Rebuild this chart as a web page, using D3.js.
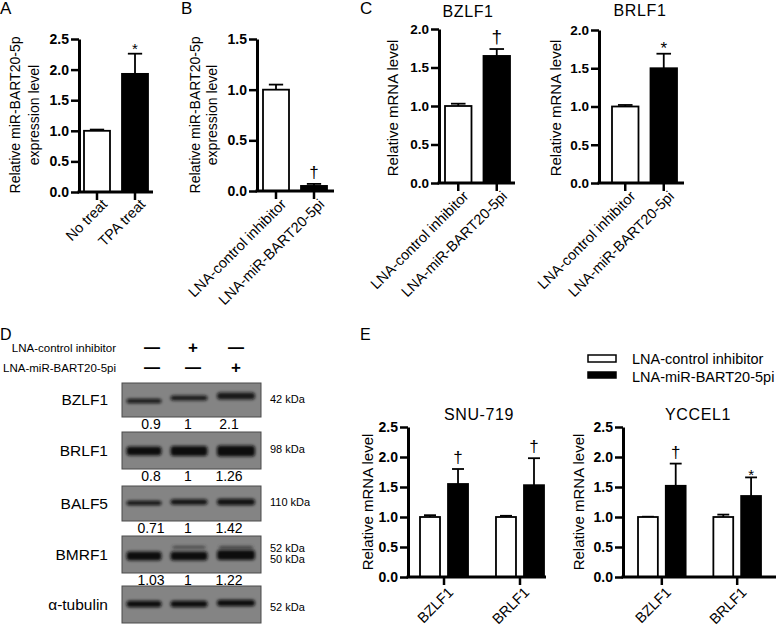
<!DOCTYPE html>
<html><head><meta charset="utf-8">
<script src="https://cdn.jsdelivr.net/npm/d3@7/dist/d3.min.js"></script>
<style>
html,body{margin:0;padding:0;background:#fff;}
svg text{font-family:'Liberation Sans',Arial,Helvetica,sans-serif;}
</style></head>
<body>
<svg id="fig" width="777" height="626"></svg>
<script>
// ---------------- DATA ----------------
const aCategories = ["No treat", "TPA treat"];
const aValues = [1.0, 1.93];
const aErrors = [0.02, 0.33];
const aMarks = ["", "*"];
const aTicks = [0, 0.5, 1.0, 1.5, 2.0, 2.5];

const bCategories = ["LNA-control inhibitor", "LNA-miR-BART20-5pi"];
const bValues = [1.0, 0.05];
const bErrors = [0.05, 0.02];
const bMarks = ["", "†"];
const bTicks = [0, 0.5, 1.0, 1.5];

const cCategories = ["LNA-control inhibitor", "LNA-miR-BART20-5pi"];
const cBZLF1Values = [1.0, 1.65];
const cBZLF1Errors = [0.03, 0.09];
const cBZLF1Marks = ["", "†"];
const cBRLF1Values = [1.0, 1.50];
const cBRLF1Errors = [0.02, 0.19];
const cBRLF1Marks = ["", "*"];
const cTicks = [0, 0.5, 1.0, 1.5, 2.0];

const dProteins = ["BZLF1", "BRLF1", "BALF5", "BMRF1", "α-tubulin"];
const dSizes = [["42 kDa"], ["98 kDa"], ["110 kDa"], ["52 kDa", "50 kDa"], ["52 kDa"]];
const dQuant = [["0.9", "1", "2.1"], ["0.8", "1", "1.26"], ["0.71", "1", "1.42"], ["1.03", "1", "1.22"]];
const dControlRow = ["—", "+", "—"];
const dMirRow = ["—", "—", "+"];
const dRowLabels = ["LNA-control inhibitor", "LNA-miR-BART20-5pi"];

const eGenes = ["BZLF1", "BRLF1"];
const eSeries = ["LNA-control inhibitor", "LNA-miR-BART20-5pi"];
const eSNUControl = [1.0, 1.0];
const eSNUControlErr = [0.03, 0.02];
const eSNUMir = [1.55, 1.53];
const eSNUMirErr = [0.25, 0.45];
const eSNUMarks = ["†", "†"];
const eYCCControl = [1.0, 1.0];
const eYCCControlErr = [0.005, 0.04];
const eYCCMir = [1.52, 1.35];
const eYCCMirErr = [0.37, 0.31];
const eYCCMarks = ["†", "*"];
const eTicks = [0, 0.5, 1.0, 1.5, 2.0, 2.5];

// ---------------- DRAWING ----------------
const svg = d3.select("#fig");
const fmt = d3.format(".1f");

function yAxis(g, y, x, ticks, fs) {
  const a = g.append("g").attr("transform", `translate(${x},0)`)
    .call(d3.axisLeft(y).tickValues(ticks).tickFormat(fmt).tickSize(8).tickSizeOuter(0).tickPadding(2));
  a.select(".domain").attr("stroke", "#000").attr("stroke-width", 3);
  a.selectAll(".tick line").attr("stroke", "#000").attr("stroke-width", 2.5);
  a.selectAll(".tick text").attr("fill", "#000").attr("font-size", fs).attr("font-weight", "bold")
    .attr("font-family", "'Liberation Sans',Arial,sans-serif");
  return a;
}

function xAxis(g, x, y0, axisX, xEnd, tickVals, labelOff, fs) {
  g.append("line").attr("x1", axisX - 1.5).attr("x2", xEnd).attr("y1", y0).attr("y2", y0)
    .attr("stroke", "#000").attr("stroke-width", 3);
  const a = g.append("g").attr("transform", `translate(0,${y0})`)
    .call(d3.axisBottom(x).tickSize(8).tickSizeOuter(0));
  a.select(".domain").remove();
  a.selectAll(".tick line").attr("stroke", "#000").attr("stroke-width", 2.5);
  a.selectAll(".tick text").attr("fill", "#000").attr("font-size", fs)
    .attr("font-family", "'Liberation Sans',Arial,sans-serif")
    .attr("text-anchor", "end").attr("y", 0).attr("x", 0).attr("dy", "0.7em")
    .attr("transform", `translate(${labelOff[0]},${labelOff[1]}) rotate(-45)`);
}

function yTitle(g, lines, xs, cy, fs) {
  lines.forEach((t, i) => {
    g.append("text").attr("transform", `translate(${xs[i]},${cy}) rotate(-90)`)
      .attr("text-anchor", "middle").attr("dy", "0.35em").attr("font-size", fs).text(t);
  });
}

function bar(g, x0, w, y, v, e, fill, mark, capFrac, markFs, starGap) {
  const cx = x0 + w / 2;
  const topE = y(v + e);
  g.append("line").attr("x1", cx).attr("x2", cx).attr("y1", y(v)).attr("y2", topE)
    .attr("stroke", "#000").attr("stroke-width", 1.8);
  g.append("line").attr("x1", cx - w * capFrac / 2).attr("x2", cx + w * capFrac / 2)
    .attr("y1", topE).attr("y2", topE).attr("stroke", "#000").attr("stroke-width", 1.8);
  g.append("rect").attr("x", x0).attr("y", y(v)).attr("width", w).attr("height", y(0) - y(v))
    .attr("fill", fill).attr("stroke", "#000").attr("stroke-width", 1.8);
  if (mark) {
    const isStar = mark === "*";
    g.append("text").attr("x", cx).attr("y", topE - (isStar ? (starGap === undefined ? 0 : starGap) : 6))
      .attr("text-anchor", "middle").attr("font-size", isStar ? markFs - 2 : markFs).text(mark);
  }
}

function simplePanel(cfg) {
  const g = svg.append("g");
  const y = d3.scaleLinear().domain([0, cfg.max]).range([cfg.y0, cfg.yTop]);
  const x = d3.scaleBand().domain(cfg.cats).range(cfg.barRange).paddingInner(cfg.pad).paddingOuter(0);
  cfg.cats.forEach((c, i) => {
    bar(g, x(c), x.bandwidth(), y, cfg.vals[i], cfg.errs[i], i === 0 ? "#fff" : "#000", cfg.marks[i], 0.55, cfg.markFs, 0);
  });
  xAxis(g, x, cfg.y0, cfg.axisX, cfg.xEnd, cfg.cats, cfg.labelOff, cfg.xFs);
  yAxis(g, y, cfg.axisX, cfg.ticks, cfg.tickFs);
  yTitle(g, cfg.yLines, cfg.yLineX, cfg.yCenter, cfg.yFs);
  if (cfg.title) g.append("text").attr("x", cfg.title[1]).attr("y", cfg.title[2]).attr("text-anchor", "middle")
    .attr("font-size", 16).attr("letter-spacing", "0.6px").text(cfg.title[0]);
}

function letter(t, x, y, fs) {
  svg.append("text").attr("x", x).attr("y", y).attr("font-size", fs).text(t);
}

// Panel A
letter("A", 0, 14, 17);
simplePanel({cats: aCategories, vals: aValues, errs: aErrors, marks: aMarks, ticks: aTicks, max: 2.5,
  y0: 192, yTop: 39, axisX: 79, xEnd: 153, barRange: [84, 148], pad: 0.316,
  labelOff: [4, 6], xFs: 14.5, tickFs: 14, markFs: 17,
  yLines: ["Relative miR-BART20-5p", "expression level"], yLineX: [15, 34], yCenter: 115, yFs: 14});

// Panel B
letter("B", 181, 14, 17);
simplePanel({cats: bCategories, vals: bValues, errs: bErrors, marks: bMarks, ticks: bTicks, max: 1.5,
  y0: 191, yTop: 39, axisX: 257, xEnd: 334, barRange: [263, 327], pad: 0.316,
  labelOff: [4, 7], xFs: 14.5, tickFs: 14, markFs: 17,
  yLines: ["Relative miR-BART20-5p", "expression level"], yLineX: [195, 212], yCenter: 115, yFs: 14});

// Panel C
letter("C", 360, 14, 17);
simplePanel({cats: cCategories, vals: cBZLF1Values, errs: cBZLF1Errors, marks: cBZLF1Marks, ticks: cTicks, max: 2.0,
  y0: 183, yTop: 29, axisX: 439, xEnd: 515, barRange: [445, 510], pad: 0.312,
  labelOff: [4, 7], xFs: 14.5, tickFs: 13.5, markFs: 19,
  yLines: ["Relative mRNA level"], yLineX: [393], yCenter: 108, yFs: 15, title: ["BZLF1", 468, 17]});
simplePanel({cats: cCategories, vals: cBRLF1Values, errs: cBRLF1Errors, marks: cBRLF1Marks, ticks: cTicks, max: 2.0,
  y0: 183, yTop: 30, axisX: 599, xEnd: 684, barRange: [612, 677], pad: 0.312,
  labelOff: [4, 7], xFs: 14.5, tickFs: 13.5, markFs: 19,
  yLines: ["Relative mRNA level"], yLineX: [556], yCenter: 108, yFs: 15, title: ["BRLF1", 640, 16]});

// Panel D (western blot)
letter("D", 0, 340, 16);
const dg = svg.append("g");
const defs = svg.append("defs");
defs.append("filter").attr("id", "blur").attr("x", "-20%").attr("y", "-100%").attr("width", "140%").attr("height", "300%")
  .append("feGaussianBlur").attr("stdDeviation", 1.4);
const headerX = [152, 193, 236];
[dControlRow, dMirRow].forEach((row, r) => {
  const yy = [352, 372][r];
  dg.append("text").attr("x", 116).attr("y", yy).attr("text-anchor", "end").attr("font-size", 11.5).text(dRowLabels[r]);
  row.forEach((s, i) => dg.append("text").attr("x", headerX[i]).attr("y", yy + 1).attr("text-anchor", "middle")
    .attr("font-size", s === "+" ? 17 : 16).attr("font-weight", "bold").text(s));
});
const boxTop = [383, 432, 486, 536, 586];
const boxH = [34, 37, 35, 37, 37];
const laneX = [144, 189, 236];
const laneW = [35, 37, 38];
const bandSpec = [
  {y: [401, 398, 396], h: 5, dark: 0.9},
  {y: [451, 451, 451], h: 10, dark: 1},
  {y: [503, 502, 502], h: 5.5, dark: 0.95},
  {y: [556, 556, 555], h: 9, dark: 1},
  {y: [604, 604, 603], h: 6.5, dark: 1}
];
const numX = [151, 188, 229];
dProteins.forEach((p, r) => {
  const top = boxTop[r], h = boxH[r];
  dg.append("rect").attr("x", 122).attr("y", top).attr("width", 139).attr("height", h)
    .attr("fill", "#848484").attr("stroke", "#4a4a4a").attr("stroke-width", 1);
  const q = r < dQuant.length ? dQuant[r].map(Number) : [1, 1, 1];
  const spec = bandSpec[r];
  laneX.forEach((lx, i) => {
    const hh = spec.h * Math.sqrt(q[i]);
    dg.append("rect").attr("x", lx - laneW[i] / 2).attr("y", spec.y[i] - hh / 2).attr("width", laneW[i]).attr("height", hh)
      .attr("rx", 3).attr("fill", "#111").attr("opacity", spec.dark).attr("filter", "url(#blur)");
    if (r === 3 && i > 0) {
      dg.append("rect").attr("x", lx - laneW[i] / 2 + 2).attr("y", 546).attr("width", laneW[i] - 4).attr("height", 2.5 * q[i])
        .attr("rx", 2).attr("fill", "#2a2a2a").attr("opacity", 0.75).attr("filter", "url(#blur)");
    }
  });
  dg.append("text").attr("x", 108).attr("y", top + h / 2).attr("dy", "0.35em").attr("text-anchor", "end")
    .attr("font-size", 15.5).text(p);
  const sz = dSizes[r];
  const sy = sz.length === 2 ? [548.5, 559.5] : [r === 4 ? 607 : top + h / 2 - 1];
  sz.forEach((s, k) => dg.append("text").attr("x", 270).attr("y", sy[k]).attr("dy", "0.33em").attr("font-size", 11).text(s));
  if (r < dQuant.length) {
    dQuant[r].forEach((n, i) => dg.append("text").attr("x", numX[i]).attr("y", top + h + 7).attr("dy", "0.35em")
      .attr("text-anchor", "middle").attr("font-size", 14).text(n));
  }
});

// Panel E
letter("E", 360, 340, 16);
const lg = svg.append("g");
eSeries.forEach((s, i) => {
  lg.append("rect").attr("x", 588).attr("y", i === 0 ? 355 : 372).attr("width", 28).attr("height", i === 0 ? 7 : 6)
    .attr("fill", i === 0 ? "#fff" : "#000").attr("stroke", "#000").attr("stroke-width", 1.5);
  lg.append("text").attr("x", 632).attr("y", i === 0 ? 364 : 382).attr("font-size", 14.5).text(s);
});

function groupedPanel(cfg) {
  const g = svg.append("g");
  const y = d3.scaleLinear().domain([0, 2.5]).range([577, 427]);
  const x0 = d3.scaleBand().domain(eGenes).range(cfg.range).paddingInner(0.368).paddingOuter(0);
  const x1 = d3.scaleBand().domain(eSeries).range([0, x0.bandwidth()]).paddingInner(0.286).paddingOuter(0);
  eGenes.forEach((gene, i) => {
    bar(g, x0(gene) + x1(eSeries[0]), x1.bandwidth(), y, cfg.ctl[i], cfg.ctlErr[i], "#fff", "", 0.6, 17);
    bar(g, x0(gene) + x1(eSeries[1]), x1.bandwidth(), y, cfg.mir[i], cfg.mirErr[i], "#000", cfg.marks[i], 0.6, 17, -3);
  });
  xAxis(g, x0, 577, cfg.axisX, cfg.xEnd, eGenes, [3, 9], 14.5);
  yAxis(g, y, cfg.axisX, eTicks, 14);
  yTitle(g, ["Relative mRNA level"], [cfg.labelX], 502, 15);
  g.append("text").attr("x", cfg.titleX).attr("y", 420).attr("text-anchor", "middle").attr("font-size", 16)
    .attr("letter-spacing", "0.6px").text(cfg.title);
}
groupedPanel({range: [420, 544], axisX: 408, xEnd: 546, ctl: eSNUControl, ctlErr: eSNUControlErr,
  mir: eSNUMir, mirErr: eSNUMirErr, marks: eSNUMarks, labelX: 368, title: "SNU-719", titleX: 479});
groupedPanel({range: [638, 761], axisX: 623, xEnd: 776, ctl: eYCCControl, ctlErr: eYCCControlErr,
  mir: eYCCMir, mirErr: eYCCMirErr, marks: eYCCMarks, labelX: 579, title: "YCCEL1", titleX: 698});
</script>
</body></html>
